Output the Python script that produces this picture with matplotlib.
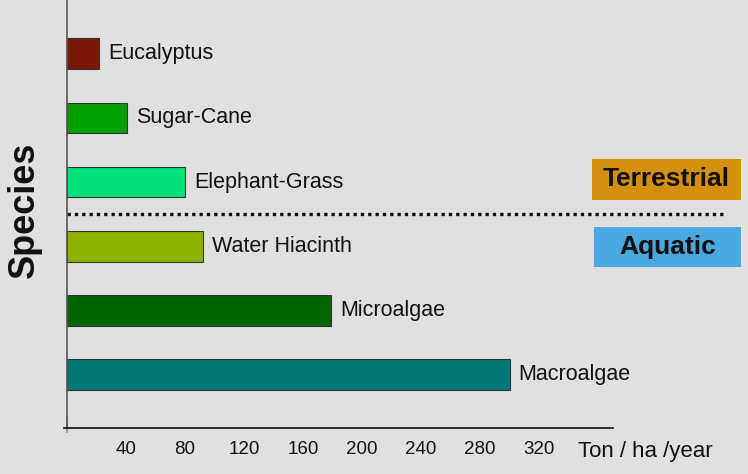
import matplotlib
matplotlib.use("Agg")
import matplotlib.pyplot as plt
from matplotlib.patches import Rectangle

plt.rcParams['font.family'] = ['Liberation Sans', 'DejaVu Sans']

# data (bottom to top)
species = ['Macroalgae', 'Microalgae', 'Water Hiacinth',
           'Elephant-Grass', 'Sugar-Cane', 'Eucalyptus']
yields = [300, 179, 92, 80, 41, 22]
colors = ['#007878', '#006400', '#8cb400', '#00e07c', '#00a000', '#7a1808']
ticks = [40, 80, 120, 160, 200, 240, 280, 320]
groups = ['Terrestrial', 'Aquatic']
group_colors = ['#d4900c', '#49a8e0']

W, H = 748, 474
bg = '#e0e0e0'

fig = plt.figure(figsize=(W / 100, H / 100), dpi=100, facecolor=bg)


def px(x, y):
    # pixel (from top-left) -> figure fraction
    return x / W, 1 - y / H


left, bottom = px(64, 428)
right, top = px(613, 0)
ax = fig.add_axes([left, bottom, right - left, top - bottom])
ax.set_facecolor(bg)

pos = list(range(len(species)))
ax.barh(pos, yields, height=0.48, color=colors, edgecolor='#333333', linewidth=0.8)

for y, v, name in zip(pos, yields, species):
    ax.annotate(name, (v, y), xytext=(6.5, 0), textcoords='offset points',
                va='center', ha='left', fontsize=15.5, color='#111111')

ax.set_xlim(-2, 370)
ax.set_ylim(-0.835, 5.84)

ax.spines['top'].set_visible(False)
ax.spines['right'].set_visible(False)
ax.spines['left'].set_position(('data', 0))
ax.spines['left'].set_color('#555555')
ax.spines['left'].set_linewidth(1.2)
ax.spines['bottom'].set_color('#111111')
ax.spines['bottom'].set_linewidth(1.2)

ax.set_yticks([])
ax.set_xticks(ticks)
ax.set_xticklabels([str(t) for t in ticks], fontsize=13.5, color='#111111')
ax.tick_params(axis='x', length=0, pad=9)

# small tick at the origin
ax.plot([0, 0], [-0.835 - 0.07, -0.835 + 0.17], color='#888888', lw=1.2,
        clip_on=False)

# dotted separator between terrestrial and aquatic species
ax.plot([0, 447], [2.5, 2.5], color='#111111', lw=2.4, dashes=(1, 1.2),
        clip_on=False)

# group boxes
boxes = [(592, 159, 149, 41), (594, 227, 147, 40)]
for (bx, by, bw, bh), label, c in zip(boxes, groups, group_colors):
    x0, y0 = px(bx, by + bh)
    fig.add_artist(Rectangle((x0, y0), bw / W, bh / H, transform=fig.transFigure,
                             facecolor=c, edgecolor='none'))
    cx, cy = px(bx + bw / 2, by + bh / 2)
    fig.text(cx, cy, label, ha='center', va='center', fontsize=19,
             fontweight='bold', color='#111111')

fx, fy = px(578, 452)
fig.text(fx, fy, 'Ton / ha /year', ha='left', va='center', fontsize=16,
         color='#111111')

sx, sy = px(24, 210)
fig.text(sx, sy, 'Species', rotation=90, ha='center', va='center',
         fontsize=26, fontweight='bold', color='#111111')

fig.savefig('out.png', dpi=100, facecolor=bg)
